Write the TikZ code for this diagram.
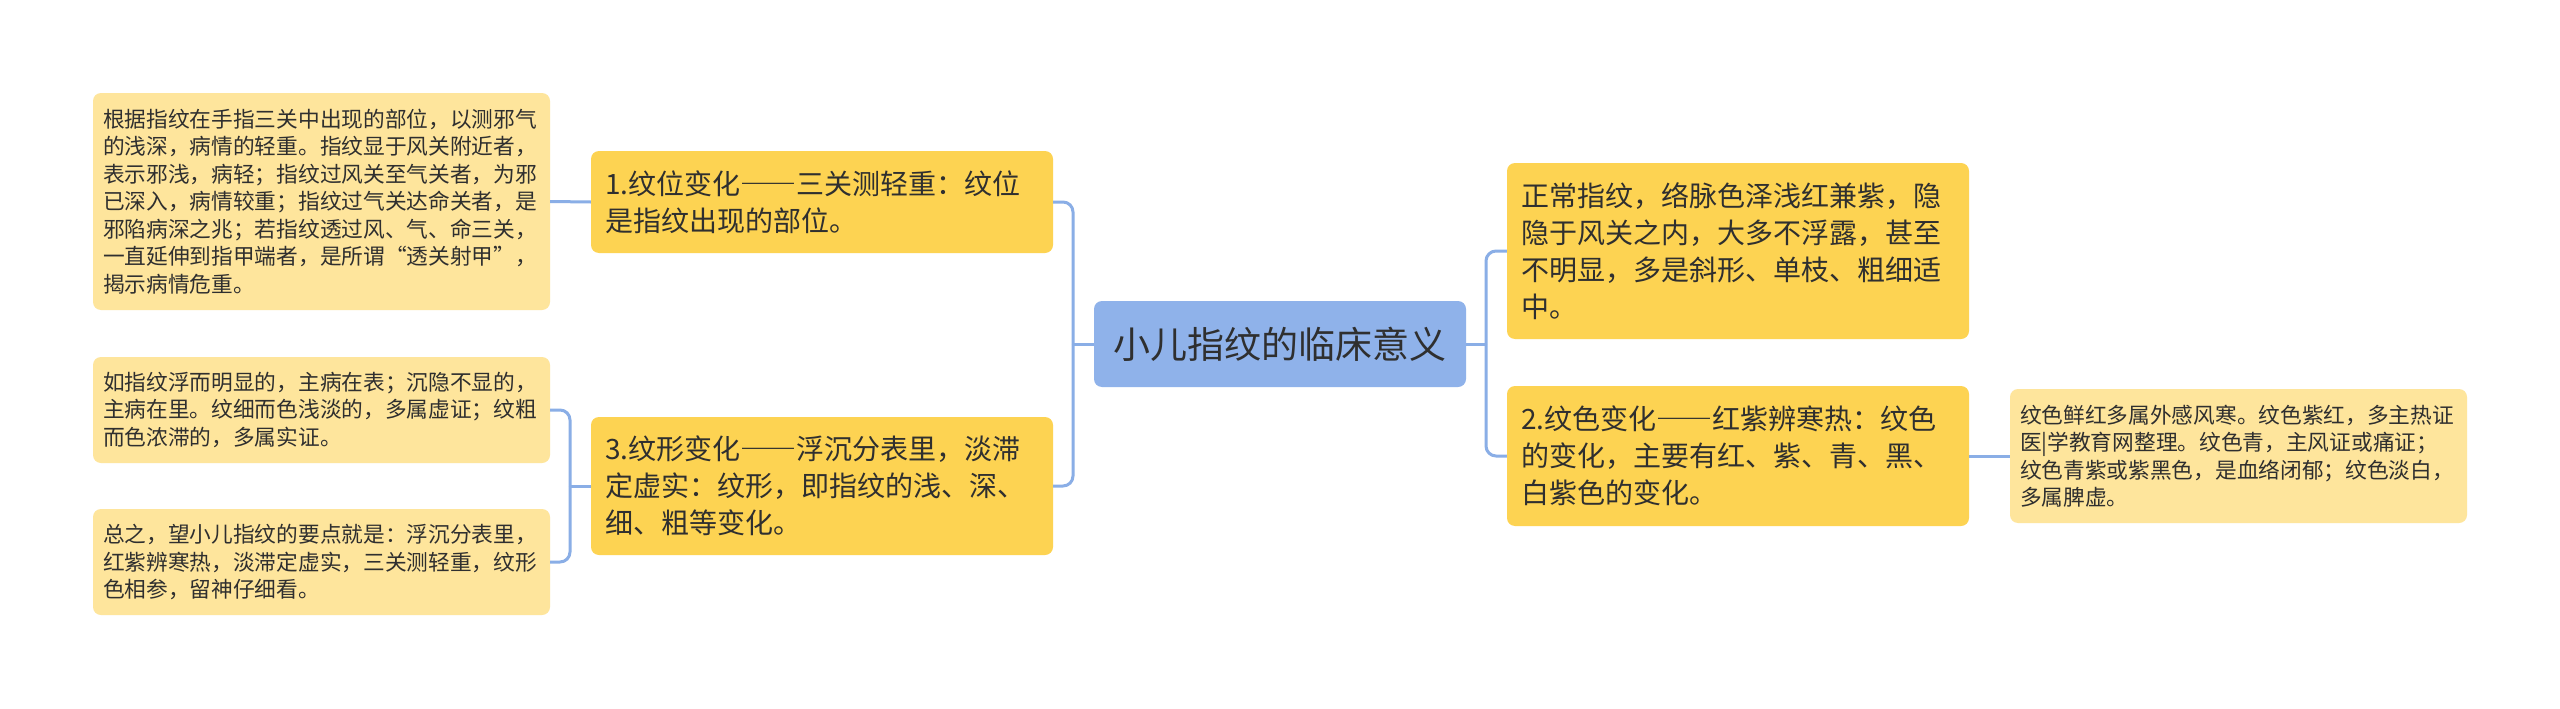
\documentclass[tikz,border=0pt]{standalone}
\usepackage{fontspec}
\setmainfont{Noto Sans CJK SC}
\newcommand{\fw}[1]{{\addfontfeature{RawFeature=+fwid}#1}}
\definecolor{rootc}{HTML}{8FB2EA}
\definecolor{lvc}{HTML}{FDD352}
\definecolor{leafc}{HTML}{FEE59C}
\definecolor{linec}{HTML}{8AAEE6}
\definecolor{txt}{HTML}{2F2F2F}
\begin{document}
\begin{tikzpicture}[x=1pt,y=-1pt,
  rootbox/.style={fill=rootc, rounded corners=8pt, minimum width=372pt, minimum height=86pt, inner sep=0pt, text=txt, font=\fontsize{37}{44}\selectfont},
  lvbox/.style={fill=lvc, rounded corners=8pt, text width=434pt, inner xsep=14pt, inner ysep=0pt, minimum height=#1, align=left, text=txt, font=\fontsize{28}{37}\selectfont},
  leafbox/.style={fill=leafc, rounded corners=8pt, text width=437pt, inner xsep=10pt, inner ysep=0pt, minimum height=#1, align=left, text=txt, font=\fontsize{21.7}{27.5}\selectfont},
  conn/.style={draw=linec, line width=3pt, rounded corners=10pt}
]
\fill[white] (0,0) rectangle (2560,709);
\useasboundingbox (0,0) rectangle (2560,709);

\node[rootbox] (root) at (1280,344) {小儿指纹的临床意义};

\node[lvbox=102pt] (n1) at (822,202) {1.纹位变化\fw{——}三关测轻重：纹位\\是指纹出现的部位。};
\node[lvbox=138pt] (n3) at (822,486) {3.纹形变化\fw{——}浮沉分表里，淡滞\\定虚实：纹形，即指纹的浅、深、\\细、粗等变化。};
\node[lvbox=176pt] (r1) at (1738,251) {正常指纹，络脉色泽浅红兼紫，隐\\隐于风关之内，大多不浮露，甚至\\不明显，多是斜形、单枝、粗细适\\中。};
\node[lvbox=140pt] (r2) at (1738,456) {2.纹色变化\fw{——}红紫辨寒热：纹色\\的变化，主要有红、紫、青、黑、\\白紫色的变化。};

\node[leafbox=217pt] (l1) at (321.5,201.5) {根据指纹在手指三关中出现的部位，以测邪气\\的浅深，病情的轻重。指纹显于风关附近者，\\表示邪浅，病轻；指纹过风关至气关者，为邪\\已深入，病情较重；指纹过气关达命关者，是\\邪陷病深之兆；若指纹透过风、气、命三关，\\一直延伸到指甲端者，是所谓\fw{“}透关射甲\fw{”}，\\揭示病情危重。};
\node[leafbox=106pt] (l2) at (321.5,410) {如指纹浮而明显的，主病在表；沉隐不显的，\\主病在里。纹细而色浅淡的，多属虚证；纹粗\\而色浓滞的，多属实证。};
\node[leafbox=106pt] (l3) at (321.5,562) {总之，望小儿指纹的要点就是：浮沉分表里，\\红紫辨寒热，淡滞定虚实，三关测轻重，纹形\\色相参，留神仔细看。};
\node[leafbox=134pt] (rl) at (2238.5,456) {纹色鲜红多属外感风寒。纹色紫红，多主热证\\医|学教育网整理。纹色青，主风证或痛证；\\纹色青紫或紫黑色，是血络闭郁；纹色淡白，\\多属脾虚。};

\coordinate (jl) at (1073,344);
\coordinate (jr) at (1486,344);
\coordinate (j3) at (570,486);

\draw[conn] (root.west) -- (jl);
\draw[conn] (jl) |- (n1.east);
\draw[conn] (jl) |- (n3.east);
\draw[conn] (root.east) -- (jr);
\draw[conn] (jr) |- (r1.west);
\draw[conn] (jr) |- (r2.west);
\draw[conn] (l1.east) -- (n1.west);
\draw[conn] (n3.west) -- (j3);
\draw[conn] (j3) |- (l2.east);
\draw[conn] (j3) |- (l3.east);
\draw[conn] (r2.east) -- (rl.west);
\end{tikzpicture}
\end{document}
